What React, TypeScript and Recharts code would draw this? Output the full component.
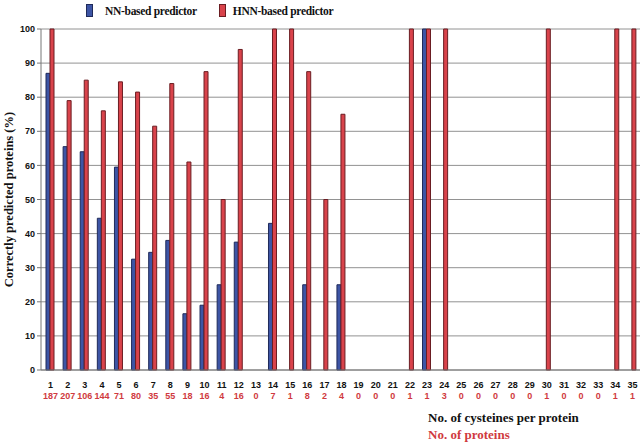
import { BarChart, Bar, XAxis, YAxis, CartesianGrid } from "recharts";

const cysteines = [
  "1", "2", "3", "4", "5", "6", "7", "8", "9", "10", "11", "12", "13", "14", "15", "16", "17", "18",
  "19", "20", "21", "22", "23", "24", "25", "26", "27", "28", "29", "30", "31", "32", "33", "34", "35",
];
const proteinCounts = [
  187, 207, 106, 144, 71, 80, 35, 55, 18, 16, 4, 16, 0, 7, 1, 8, 2, 4,
  0, 0, 0, 1, 1, 3, 0, 0, 0, 0, 0, 1, 0, 0, 0, 1, 1,
];
const nnValues = [
  87, 65.5, 64, 44.5, 59.5, 32.5, 34.5, 38, 16.5, 19, 25, 37.5, 0, 43, 0, 25, 0, 25,
  0, 0, 0, 0, 100, 0, 0, 0, 0, 0, 0, 0, 0, 0, 0, 0, 0,
];
const hnnValues = [
  100, 79, 85, 76, 84.5, 81.5, 71.5, 84, 61, 87.5, 50, 94, 0, 100, 100, 87.5, 50, 75,
  0, 0, 0, 100, 100, 100, 0, 0, 0, 0, 0, 100, 0, 0, 0, 100, 100,
];
const yTicks = [0, 10, 20, 30, 40, 50, 60, 70, 80, 90, 100];

const data = cysteines.map((c, i) => ({
  cys: c,
  count: proteinCounts[i],
  nn: nnValues[i],
  hnn: hnnValues[i],
}));

const serif = "'Liberation Serif', 'Times New Roman', serif";
const sans = "'Liberation Sans', Arial, sans-serif";

function CysTick({ x, y, payload, index }: any) {
  return (
    <g>
      <text x={x + 1} y={y + 10} textAnchor="middle" fontFamily={sans} fontWeight="bold" fontSize={9} fill="#111">
        {payload.value}
      </text>
      <text x={x + 1} y={y + 21} textAnchor="middle" fontFamily={sans} fontWeight="bold" fontSize={9} fill="#d03a40">
        {proteinCounts[index]}
      </text>
    </g>
  );
}

export default function App() {
  return (
    <div style={{ position: "fixed", left: 0, top: 0, width: 640, height: 442, background: "#fff" }}>
      {/* legend */}
      <div
        style={{
          position: "absolute",
          top: 4,
          left: 86,
          display: "flex",
          alignItems: "center",
          fontFamily: serif,
          fontWeight: "bold",
          fontSize: 11.5,
          letterSpacing: -0.3,
          color: "#111",
        }}
      >
        <span style={{ width: 5, height: 11, background: "#3d55a5", border: "1px solid #1f2a5a", marginRight: 12 }} />
        <span>NN-based predictor</span>
        <span
          style={{ width: 5, height: 11, background: "#d9434b", border: "1px solid #6b1d22", marginLeft: 22, marginRight: 7 }}
        />
        <span>HNN-based predictor</span>
      </div>

      <BarChart
        width={640}
        height={442}
        data={data}
        margin={{ top: 29, right: 0, left: 0, bottom: 32 }}
        barGap={0}
        barSize={4}
      >
        <CartesianGrid vertical={false} stroke="#929292" />
        <XAxis
          dataKey="cys"
          stroke="#777"
          tickLine={false}
          height={40}
          interval={0}
          tick={<CysTick />}
          label={({ viewBox }: any) => (
            <g>
              <text x={428} y={viewBox.y + 52} fontFamily={serif} fontWeight="bold" fontSize={13} fill="#111">
                No. of cysteines per protein
              </text>
              <text x={428} y={viewBox.y + 69} fontFamily={serif} fontWeight="bold" fontSize={13} fill="#d03a40">
                No. of proteins
              </text>
            </g>
          )}
        />
        <YAxis
          width={41}
          domain={[0, 100]}
          ticks={yTicks}
          interval={0}
          stroke="#777"
          tickSize={4}
          tick={{ fontFamily: sans, fontWeight: "bold", fontSize: 9, fill: "#111" }}
          label={({ viewBox }: any) => {
            const cy = viewBox.y + viewBox.height / 2;
            return (
              <text
                x={13}
                y={cy}
                transform={`rotate(-90, 13, ${cy})`}
                textAnchor="middle"
                fontFamily={serif}
                fontWeight="bold"
                fontSize={12.5}
                fill="#111"
              >
                Correctly predicted proteins (%)
              </text>
            );
          }}
        />
        <Bar dataKey="nn" fill="#3d55a5" stroke="#1f2a5a" strokeWidth={1} isAnimationActive={false} />
        <Bar dataKey="hnn" fill="#d9434b" stroke="#6b1d22" strokeWidth={1} isAnimationActive={false} />
      </BarChart>
    </div>
  );
}
